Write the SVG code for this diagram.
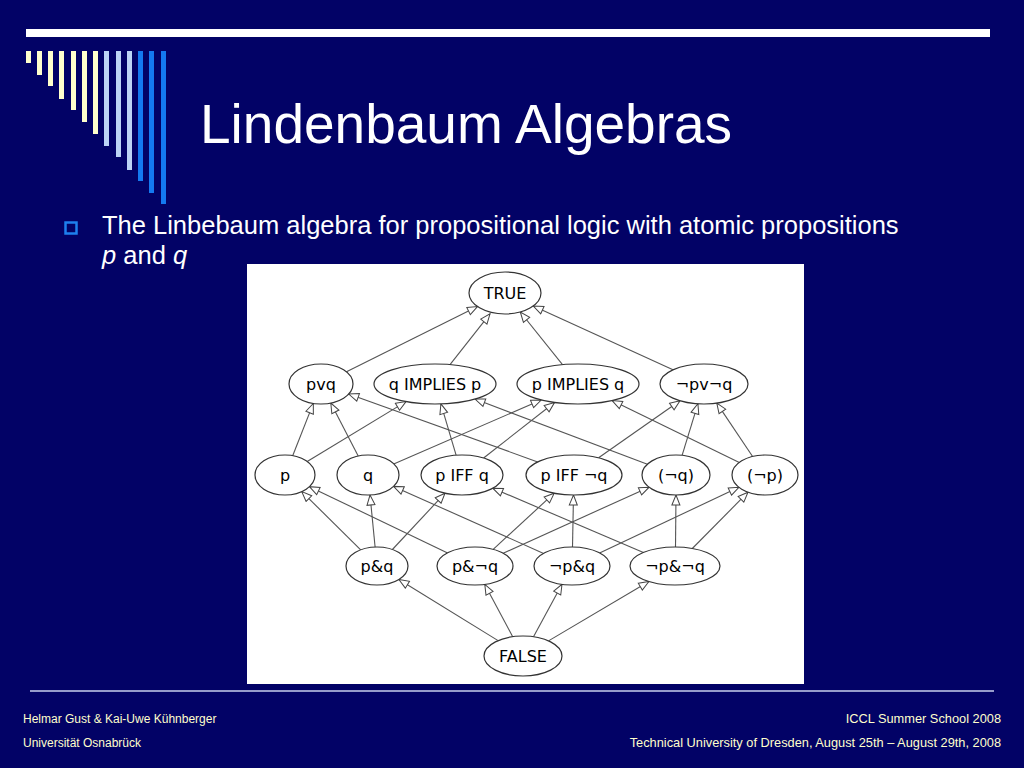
<svg xmlns="http://www.w3.org/2000/svg" width="1024" height="768" viewBox="0 0 1024 768">
<defs>
<style>
.bg{fill:#020266}
.ybar{fill:#FFFFCC}
.lbar{fill:#BCD4F6}
.bbar{fill:#1479F0}
.title{font-family:"Liberation Sans",Arial,sans-serif;font-size:55px;fill:#FFFFFF}
.body{font-family:"Liberation Sans",Arial,sans-serif;font-size:25.5px;fill:#FFFFFF}
.foot{font-family:"Liberation Sans",Arial,sans-serif;font-size:12px;fill:#FFFFCC}
.footr{font-family:"Liberation Sans",Arial,sans-serif;font-size:12.8px;fill:#FFFFCC;text-anchor:end}
.node ellipse{fill:#FFFFFF;stroke:#333333;stroke-width:1.2}
.node text{font-family:"DejaVu Sans",Verdana,sans-serif;font-size:16px;fill:#000000;text-anchor:middle}
.edges line{stroke:#555555;stroke-width:1.1;marker-end:url(#ah)}
</style>
<marker id="ah" markerUnits="userSpaceOnUse" markerWidth="12" markerHeight="10" viewBox="0 0 12 10" refX="11" refY="5" orient="auto">
<path d="M1,1 L11,5 L1,9 Z" fill="#FFFFFF" stroke="#444444" stroke-width="1"/>
</marker>
</defs>
<rect class="bg" x="0" y="0" width="1024" height="768"/>
<rect x="26" y="29" width="964" height="8" fill="#FFFFFF"/>
<g id="bars">
<rect class="ybar" x="26" y="51" width="5" height="12"/>
<rect class="ybar" x="37" y="51" width="5" height="24"/>
<rect class="ybar" x="48" y="51" width="5" height="35"/>
<rect class="ybar" x="59" y="51" width="5" height="48"/>
<rect class="ybar" x="71" y="51" width="5" height="59"/>
<rect class="ybar" x="82" y="51" width="5" height="71"/>
<rect class="ybar" x="93" y="51" width="5" height="83"/>
<rect class="lbar" x="104" y="51" width="5" height="95"/>
<rect class="lbar" x="116" y="51" width="5" height="106"/>
<rect class="lbar" x="127" y="51" width="5" height="119"/>
<rect class="bbar" x="138" y="51" width="5" height="130"/>
<rect class="bbar" x="149" y="51" width="5" height="142"/>
<rect class="bbar" x="161" y="51" width="5" height="153"/>
</g>
<text class="title" x="200" y="143">Lindenbaum Algebras</text>
<rect x="65.5" y="222.5" width="11" height="11" fill="none" stroke="#1E80EE" stroke-width="2.5"/>
<text class="body" x="102" y="234">The Linbebaum algebra for propositional logic with atomic propositions</text>
<text class="body" x="102" y="264"><tspan font-style="italic">p</tspan> and <tspan font-style="italic">q</tspan></text>
<rect x="247" y="264" width="557" height="420" fill="#FFFFFF"/>
<g class="edges" id="connectors">
<line x1="346" y1="372" x2="477.5" y2="306.6"/>
<line x1="450" y1="364.6" x2="490" y2="313.8"/>
<line x1="562.5" y1="364.7" x2="520.3" y2="312"/>
<line x1="673" y1="369.8" x2="533.3" y2="306"/>
<line x1="292.7" y1="455.7" x2="313.3" y2="403.4"/>
<line x1="307.2" y1="461.5" x2="406" y2="401.6"/>
<line x1="358.2" y1="456" x2="330.8" y2="403"/>
<line x1="393.7" y1="463.9" x2="541.2" y2="400"/>
<line x1="456.1" y1="455.2" x2="440.9" y2="403.9"/>
<line x1="483.6" y1="458" x2="554.5" y2="402.5"/>
<line x1="537.7" y1="461.9" x2="348.7" y2="394"/>
<line x1="598.6" y1="457.8" x2="680" y2="400.8"/>
<line x1="647.4" y1="464.2" x2="475" y2="399.1"/>
<line x1="682.1" y1="455.3" x2="697.9" y2="403.8"/>
<line x1="739.3" y1="462.5" x2="612.1" y2="400.6"/>
<line x1="752.6" y1="456.5" x2="716.8" y2="403.1"/>
<line x1="360.7" y1="549.8" x2="301.8" y2="491.6"/>
<line x1="375.1" y1="547" x2="370" y2="495"/>
<line x1="392.4" y1="549.5" x2="445" y2="493.2"/>
<line x1="447.6" y1="552.9" x2="309.4" y2="486.7"/>
<line x1="493.2" y1="549.3" x2="554.2" y2="493.2"/>
<line x1="503.2" y1="553.2" x2="649.1" y2="487.2"/>
<line x1="543.6" y1="553.4" x2="393.5" y2="486.4"/>
<line x1="572.5" y1="547" x2="573.5" y2="495"/>
<line x1="599.6" y1="553" x2="738.9" y2="487.3"/>
<line x1="643.4" y1="552.5" x2="492.8" y2="488.2"/>
<line x1="675.5" y1="547" x2="676" y2="495"/>
<line x1="692.3" y1="548.5" x2="748" y2="492.2"/>
<line x1="498.1" y1="640.6" x2="398.9" y2="579.5"/>
<line x1="512.7" y1="636.7" x2="484.8" y2="584.4"/>
<line x1="533.5" y1="636.7" x2="562" y2="584.3"/>
<line x1="548.5" y1="640.9" x2="648.9" y2="581.5"/>
</g>
<g class="node" id="n-true"><ellipse cx="505" cy="293" rx="36" ry="21"/><text x="505" y="299">TRUE</text></g>
<g class="node" id="n-pvq"><ellipse cx="321" cy="384" rx="32" ry="20"/><text x="321" y="390">pvq</text></g>
<g class="node" id="n-qimpp"><ellipse cx="435" cy="384" rx="61" ry="20"/><text x="435" y="390">q IMPLIES p</text></g>
<g class="node" id="n-pimpq"><ellipse cx="578" cy="384" rx="61" ry="20"/><text x="578" y="390">p IMPLIES q</text></g>
<g class="node" id="n-npvnq"><ellipse cx="704" cy="384" rx="44" ry="20"/><text x="704" y="390">¬pv¬q</text></g>
<g class="node" id="n-p"><ellipse cx="285" cy="475" rx="30" ry="20"/><text x="285" y="481">p</text></g>
<g class="node" id="n-q"><ellipse cx="368" cy="475" rx="31" ry="20"/><text x="368" y="481">q</text></g>
<g class="node" id="n-piffq"><ellipse cx="462" cy="475" rx="41" ry="20"/><text x="462" y="481">p IFF q</text></g>
<g class="node" id="n-piffnq"><ellipse cx="574" cy="475" rx="48" ry="20"/><text x="574" y="481">p IFF ¬q</text></g>
<g class="node" id="n-nq"><ellipse cx="676" cy="475" rx="34" ry="20"/><text x="676" y="481">(¬q)</text></g>
<g class="node" id="n-np"><ellipse cx="765" cy="475" rx="33" ry="20"/><text x="765" y="481">(¬p)</text></g>
<g class="node" id="n-pandq"><ellipse cx="377" cy="566" rx="31" ry="19"/><text x="377" y="572">p&amp;q</text></g>
<g class="node" id="n-pandnq"><ellipse cx="475" cy="566" rx="38" ry="19"/><text x="475" y="572">p&amp;¬q</text></g>
<g class="node" id="n-npandq"><ellipse cx="572" cy="566" rx="38" ry="19"/><text x="572" y="572">¬p&amp;q</text></g>
<g class="node" id="n-npandnq"><ellipse cx="675" cy="566" rx="45" ry="19"/><text x="675" y="572">¬p&amp;¬q</text></g>
<g class="node" id="n-false"><ellipse cx="523" cy="656" rx="39" ry="20"/><text x="523" y="662">FALSE</text></g>
<line x1="30" y1="691" x2="994" y2="691" stroke="#C8D0EE" stroke-width="1.5"/>
<text class="foot" x="23" y="723">Helmar Gust &amp; Kai-Uwe Kühnberger</text>
<text class="foot" x="23" y="747">Universität Osnabrück</text>
<text class="footr" x="1001" y="723">ICCL Summer School 2008</text>
<text class="footr" x="1001" y="747">Technical University of Dresden, August 25th – August 29th, 2008</text>
</svg>
